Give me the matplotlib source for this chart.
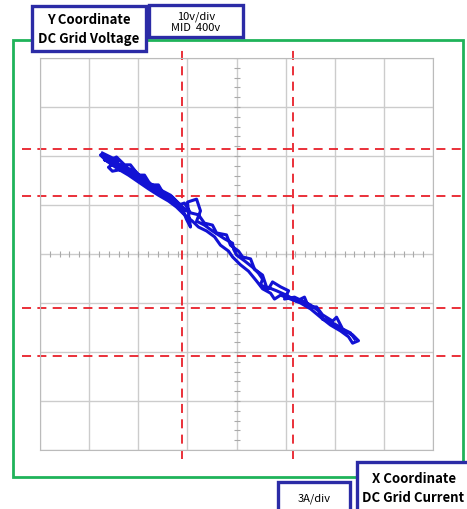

# XY scope trace: DC grid voltage vs DC grid current
import matplotlib.pyplot as plt
from matplotlib.patches import Rectangle

plt.rcParams['font.family'] = ['Noto Sans CJK KR', 'DejaVu Sans']

# trace, current in A, voltage in V
current_a = [-8.19, -7.70, -7.21, -8.07, -7.45, -7.82, -7.58, -6.97, -6.35, -5.74,
             -5.13, -4.64, -4.15, -3.67, -3.30, -3.06, -2.81, -2.93, -2.99, -2.44,
             -2.20, -2.44, -1.96, -1.47, -1.10, -0.73, -0.24, -0.18, 0.00, 0.49,
             0.98, 1.34, 1.59, 1.47, 1.96, 2.20, 2.69, 3.18, 2.93, 3.54,
             4.03, 4.52, 5.01, 5.25, 5.62, 6.11, 6.60, 7.09, 7.45, 7.09,
             6.84, 6.35, 5.74, 5.13, 4.52, 3.91, 3.30, 2.69, 2.32, 2.08,
             1.59, 1.22, 0.73, 0.24, -0.24, -0.49, -0.98, -1.34, -1.83, -2.32,
             -2.69, -3.18, -3.67, -4.15, -4.77, -5.38, -5.99, -6.60, -7.21, -7.94,
             -8.31, -7.09, -6.23, -5.50, -4.77, -4.03, -3.42, -3.06,
             -8.07, -7.58, -7.33, -6.84, -6.48, -5.99, -5.62, -5.25, -4.77, -4.40,
             -3.91, -3.54, -3.18, -2.81, -2.32, -1.96, -1.47, -1.22, -0.61, -0.37,
             0.12, 0.37, 0.86, 1.10, 1.59, 1.83, 2.44, 3.05, 3.67, 4.15,
             4.40, 4.89, 5.25, 5.87, 6.11, 6.48, 6.96, 7.21]
voltage_v = [420.6, 419.8, 419.0, 419.2, 418.6, 417.7, 416.9, 417.3, 416.5, 415.3,
             413.9, 412.9, 411.6, 410.6, 409.2, 407.1, 405.5, 408.2, 410.6, 411.2,
             408.8, 406.7, 405.9, 404.7, 403.9, 403.1, 402.2, 401.0, 399.8, 398.6,
             397.3, 396.1, 394.9, 393.7, 392.9, 394.3, 393.3, 392.5, 390.8, 391.2,
             390.4, 389.6, 388.4, 386.7, 386.3, 385.5, 384.3, 383.5, 382.3, 381.8,
             383.1, 384.3, 385.5, 387.1, 388.8, 390.0, 390.8, 391.6, 390.8, 392.0,
             392.9, 394.5, 396.5, 397.8, 399.4, 400.6, 401.8, 403.5, 404.7, 405.5,
             406.7, 408.0, 409.6, 410.8, 412.0, 413.3, 414.7, 416.1, 417.3, 419.0,
             420.2, 418.2, 416.9, 414.9, 413.3, 412.0, 410.0, 408.8,
             419.8, 419.4, 419.8, 418.2, 418.2, 416.1, 416.1, 414.1, 414.1, 412.0,
             411.6, 410.0, 410.4, 408.4, 408.0, 406.3, 405.9, 404.3, 403.9, 401.8,
             400.6, 399.4, 399.0, 396.9, 395.7, 393.3, 392.5, 391.6, 390.4, 391.2,
             389.2, 389.2, 387.6, 386.3, 387.1, 384.7, 383.9, 382.7]

# cursor lines
cursor_i = [-3.3, 3.48]
cursor_v = [421.4, 411.8, 389.0, 379.2]

amp_per_div = 3
volt_per_div = 10
mid_v = 400

fig = plt.figure(figsize=(4.67, 5.10), dpi=100)
ax = fig.add_axes([0.0857, 0.1157, 0.8415, 0.7686])

ax.set_xlim(-4 * amp_per_div, 4 * amp_per_div)
ax.set_ylim(mid_v - 4 * volt_per_div, mid_v + 4 * volt_per_div)
ax.set_xticks([amp_per_div * k for k in range(-4, 5)])
ax.set_yticks([mid_v + volt_per_div * k for k in range(-4, 5)])
ax.grid(True, color='#cccccc', linewidth=1.0)
ax.tick_params(length=0, labelbottom=False, labelleft=False)
for s in ax.spines.values():
    s.set_color('#bbbbbb')

# small ticks on the centre axes
sub_x = [amp_per_div * k / 5 for k in range(-20, 21)]
sub_y = [mid_v + volt_per_div * k / 5 for k in range(-20, 21)]
ax.plot(sub_x, [mid_v] * len(sub_x), '|', color='#aaaaaa', ms=5, mew=0.8)
ax.plot([0] * len(sub_y), sub_y, '_', color='#aaaaaa', ms=5, mew=0.8)

for c in cursor_v:
    ax.plot([-13.1, 14.0], [c, c], color='#e8202a', lw=1.3, dashes=(5, 3.5), clip_on=False)
for c in cursor_i:
    ax.plot([c, c], [358.2, 441.8], color='#e8202a', lw=1.3, dashes=(5, 3.5), clip_on=False)

ax.plot(current_a, voltage_v, color='#1212d4', lw=2.2, solid_joinstyle='round')

# green frame
fig.add_artist(Rectangle((0.0278, 0.0627), 0.9636, 0.8569, transform=fig.transFigure,
                         fill=False, edgecolor='#1fb35a', lw=2.0))

def label_box(x0, y0, x1, y1, lines, bold, size, spacing):
    # pixel coords from top-left
    W, H = 467, 510
    fig.add_artist(Rectangle((x0 / W, 1 - y1 / H), (x1 - x0) / W, (y1 - y0) / H,
                             transform=fig.transFigure, facecolor='white',
                             edgecolor='#2b2ba6', lw=2.4, zorder=5))
    fig.text((x0 + x1) / 2 / W, 1 - (y0 + y1) / 2 / H, '\n'.join(lines),
             ha='center', va='center', fontsize=size, linespacing=spacing,
             fontweight='bold' if bold else 'normal', zorder=6)

label_box(32, 7, 146, 52, ['Y Coordinate', 'DC Grid Voltage'], True, 9.5, 1.45)
label_box(149, 6, 243, 38, ['10v/div', 'MID  400v'], False, 8.0, 1.15)
label_box(357, 463, 470, 514, ['X Coordinate', 'DC Grid Current'], True, 9.5, 1.45)
label_box(278, 483, 350, 514, ['3A/div'], False, 8.0, 1.15)

fig.savefig('out.png', dpi=100)
